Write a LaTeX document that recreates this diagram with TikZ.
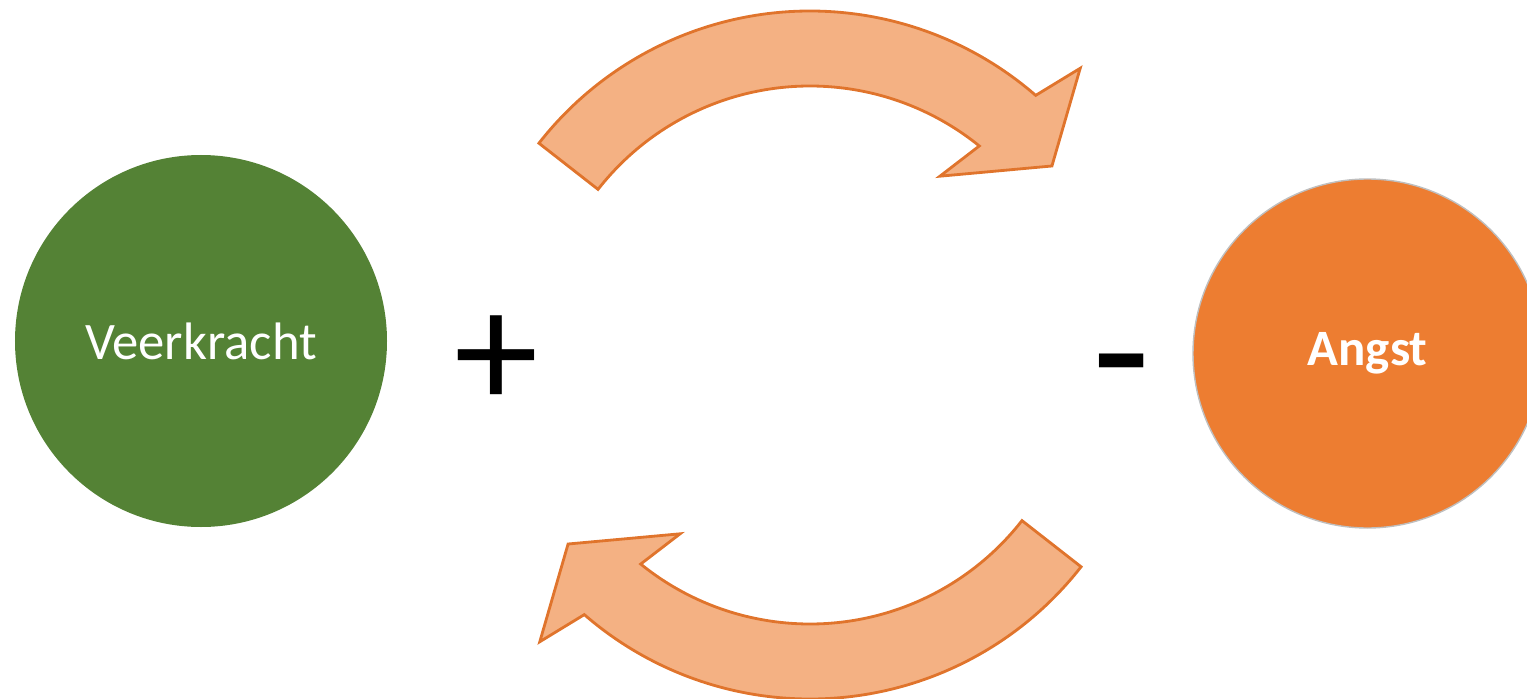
\documentclass[tikz,border=0pt]{standalone}
\usepackage{fontspec}
\setmainfont{Carlito}
\definecolor{veergroen}{HTML}{548235}
\definecolor{angstoranje}{HTML}{ED7D31}
\definecolor{pijlvul}{HTML}{F4B183}
\definecolor{pijlrand}{HTML}{E0742C}
\tikzset{
	cirkel/.style={circle, inner sep=0pt, text=white},
	pijl/.style={fill=pijlvul, draw=pijlrand, line width=0.8pt, line join=miter},
	teken/.style={anchor=base, inner sep=0pt, font=\fontsize{54}{60}\selectfont}
}
\begin{document}
\begin{tikzpicture}[line join=round, line cap=round]
	\useasboundingbox (0,0) rectangle (15.27,6.98);
	\node[cirkel, fill=veergroen, minimum size=3.72cm, font=\fontsize{15}{18}\selectfont] (veer) at (2.01,3.57) {Veerkracht};
	\node[cirkel, fill=angstoranje, draw=black!25, line width=0.4pt, minimum size=3.49cm, font={\fontsize{14.5}{17}\selectfont\bfseries}] (angst) at (13.675,3.445) {Angst};
	\coordinate (M) at (8.10,3.43);
	% pijl boven
	\draw[pijl]
	([shift={(142:3.44)}]M) arc[start angle=142, end angle=49, radius=3.44]
	--([shift={(46.7:3.94)}]M)--([shift={(38:3.07)}]M)--([shift={(54:2.21)}]M)--([shift={(51:2.69)}]M)
	arc[start angle=51, end angle=142, radius=2.69]--cycle;
	% pijl onder
	\draw[pijl]
	([shift={(322:3.44)}]M) arc[start angle=322, end angle=229, radius=3.44]
	--([shift={(226.7:3.94)}]M)--([shift={(218:3.07)}]M)--([shift={(234:2.21)}]M)--([shift={(231:2.69)}]M)
	arc[start angle=231, end angle=322, radius=2.69]--cycle;
	\path
	(4.97,2.90)node[teken, font=\fontsize{48}{54}\selectfont](plus){+}
	(11.22,2.84)node[teken](min){-}
	;
\end{tikzpicture}
\end{document}
